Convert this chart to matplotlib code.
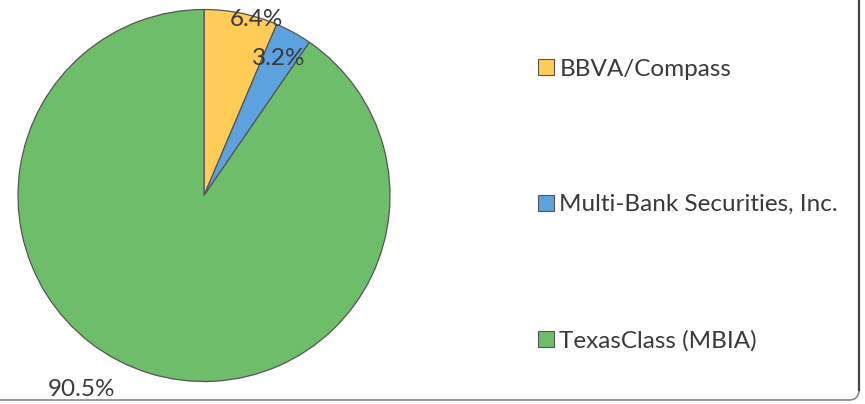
import matplotlib
matplotlib.use("Agg")
import matplotlib.pyplot as plt
from matplotlib.patches import Patch, FancyBboxPatch

labels = ["BBVA/Compass", "Multi-Bank Securities, Inc.", "TexasClass (MBIA)"]
shares = [6.4, 3.2, 90.5]
colors = ["#FFCD57", "#5BA2DE", "#6DBD6B"]
# where each percent label sits (in pie radius units)
label_pos = [(0.28, 0.946), (0.40, 0.734), (-0.66, -1.045)]

plt.rcParams["font.family"] = ["Lato", "DejaVu Sans"]
text_col = "#3a3a3a"
fs = 17.5

W, H = 865, 404
fig = plt.figure(figsize=(W / 100, H / 100), dpi=100)

cx, cy, r = 204, 195.5, 186
ax = fig.add_axes([(cx - r) / W, (H - cy - r) / H, 2 * r / W, 2 * r / H])
wedges, _ = ax.pie(shares, colors=colors, startangle=90, counterclock=False,
                   radius=1, wedgeprops=dict(edgecolor="#555555", linewidth=0.9))
for v, (x, y) in zip(shares, label_pos):
    ax.text(x, y, f"{v:.1f}%", ha="center", va="center", fontsize=fs,
            color=text_col, clip_on=False)
ax.set_xlim(-1, 1)
ax.set_ylim(-1, 1)

handles = [Patch(facecolor=c, edgecolor="#555555", linewidth=0.8) for c in colors]
fig.legend(handles, labels, loc="center left", bbox_to_anchor=(538 / W, 1 - 205 / H),
           frameon=False, fontsize=fs, labelcolor=text_col,
           handlelength=0.66, handleheight=0.66, handletextpad=0.22,
           labelspacing=4.71, borderaxespad=0, borderpad=0)

# chart frame (only right and bottom edges are inside the picture)
frame = FancyBboxPatch((-30, 4), 889, H + 30,
                       boxstyle="round,pad=0,rounding_size=10",
                       transform=None, facecolor="none",
                       edgecolor="#8a8a8a", linewidth=1.2)
fig.patches.append(frame)
# right edge is darker than the bottom one
fig.add_artist(plt.Line2D([859 / W, 859 / W], [14 / H, 1], color="#444444",
                          linewidth=1.6))

fig.savefig("out.png", dpi=100)
